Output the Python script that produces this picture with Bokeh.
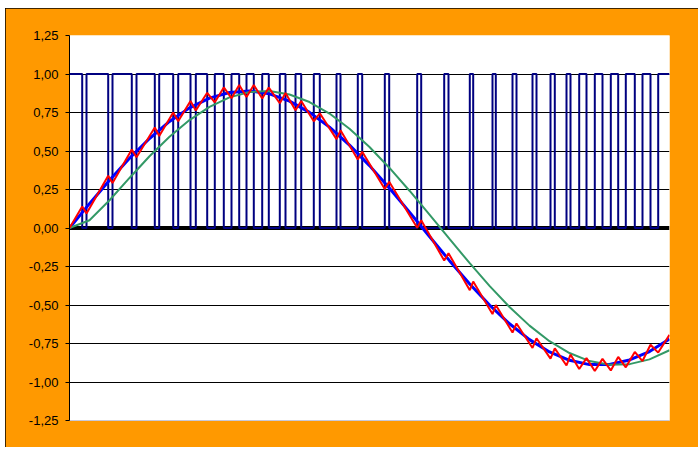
from bokeh.plotting import figure
from bokeh.models import Range1d, FixedTicker, Span
from bokeh.embed import file_html
from bokeh.resources import INLINE

# ---------------- data ----------------
y_ticks = [-1.25, -1.0, -0.75, -0.5, -0.25, 0.0, 0.25, 0.5, 0.75, 1.0, 1.25]
y_labels = ["-1,25", "-1,00", "-0,75", "-0,50", "-0,25", "0,00",
            "0,25", "0,50", "0,75", "1,00", "1,25"]

# PWM square wave: times of falling (1->0) and rising (0->1) edges
pwm_down = [12.7, 38.7, 62.3, 85.3, 103.7, 121, 137.7, 154.3, 169.7, 184.3,
            199.3, 216, 231.7, 250.3, 271, 292.7, 319.7, 351.7, 379, 403.7,
            426.3, 447, 467, 485.3, 501, 517, 533, 548.7, 565.3, 581]
pwm_up = [17, 43, 67, 89.7, 108.7, 126.3, 145.3, 162, 177, 192.7,
          210.3, 226, 244.3, 267, 288.3, 315.3, 347.7, 374.7, 400.3, 423,
          443, 463, 481, 497, 509.7, 525.3, 541.3, 556.3, 573, 588.7]
t_start, t_end = 0, 600

# reference sine (blue)
ref_x = [0, 20, 40, 60, 80, 100, 120, 140, 160, 180, 200, 220, 240, 260, 280, 300,
         320, 340, 360, 380, 400, 420, 440, 460, 480, 500, 520, 540, 560, 580, 600]
ref_y = [0.0, 0.158, 0.310, 0.453, 0.581, 0.692, 0.780, 0.843, 0.880, 0.890, 0.871,
         0.824, 0.751, 0.655, 0.538, 0.405, 0.258, 0.103, -0.055, -0.212, -0.362,
         -0.500, -0.622, -0.725, -0.805, -0.859, -0.887, -0.886, -0.857, -0.802, -0.721]

# filtered output (red), vertex values at start, every PWM edge, end
out_y = [0.0, 0.140, 0.094, 0.340, 0.292, 0.509, 0.460, 0.653, 0.597, 0.750, 0.693,
         0.824, 0.763, 0.878, 0.816, 0.913, 0.843, 0.928, 0.850, 0.928, 0.841,
         0.912, 0.810, 0.876, 0.765, 0.825, 0.693, 0.745, 0.577, 0.634, 0.445,
         0.495, 0.253, 0.300, 0.002, 0.050, -0.211, -0.164, -0.404, -0.348, -0.559,
         -0.500, -0.679, -0.620, -0.779, -0.716, -0.848, -0.782, -0.893, -0.822, -0.916,
         -0.845, -0.929, -0.850, -0.925, -0.837, -0.905, -0.805, -0.864, -0.758, -0.809,
         -0.694]

# smoothed output (green)
smooth_x = [0, 20, 40, 60, 80, 100, 120, 140, 160, 180, 200, 220, 240, 260, 280, 300,
            320, 340, 360, 380, 400, 420, 440, 460, 480, 500, 520, 540, 560, 580, 600]
smooth_y = [0.0, 0.05, 0.18, 0.325, 0.466, 0.593, 0.701, 0.787, 0.848, 0.883, 0.889,
            0.867, 0.818, 0.743, 0.644, 0.526, 0.390, 0.242, 0.087, -0.071, -0.227,
            -0.376, -0.513, -0.634, -0.735, -0.812, -0.864, -0.888, -0.884, -0.853, -0.794]

# ---------------- build ----------------
sq_x, sq_y = [t_start], [1]
for d, u in zip(pwm_down, pwm_up):
    sq_x += [d, d, u, u]
    sq_y += [1, 0, 0, 1]
sq_x.append(t_end)
sq_y.append(1)

out_x = [t_start]
for d, u in zip(pwm_down, pwm_up):
    out_x += [d, u]
out_x.append(t_end)

p = figure(width=693, height=439, output_backend="svg", toolbar_location=None,
           x_range=Range1d(t_start, t_end), y_range=Range1d(-1.25, 1.25),
           min_border_left=64, min_border_right=29, min_border_top=27, min_border_bottom=27)
p.border_fill_color = "#FF9900"
p.background_fill_color = "white"
p.outline_line_color = None
p.styles = {"outline": "1px solid black", "outline-offset": "-1px",
            "margin-left": "5px", "margin-top": "8px"}

p.xgrid.visible = False
p.ygrid.ticker = FixedTicker(ticks=[t for t in y_ticks if abs(t) not in (0.0, 1.25)])
p.ygrid.grid_line_color = "black"
p.ygrid.grid_line_width = 1

p.yaxis.ticker = FixedTicker(ticks=y_ticks)
p.yaxis.major_label_overrides = {t: l for t, l in zip(y_ticks, y_labels)}
p.yaxis.axis_line_color = "black"
p.yaxis.major_tick_line_color = "black"
p.yaxis.major_tick_out = 4
p.yaxis.major_tick_in = 0
p.yaxis.minor_tick_line_color = None
p.yaxis.major_label_standoff = 7
p.yaxis.major_label_text_font = "Liberation Sans"
p.yaxis.major_label_text_font_size = "13px"
p.yaxis.major_label_text_color = "black"

p.xaxis.ticker = FixedTicker(ticks=[])
p.xaxis.axis_line_color = "#C8C8D8"
p.xaxis.major_tick_line_color = None
p.xaxis.minor_tick_line_color = None

zero = Span(location=0, dimension="width", line_color="black", line_width=4, level="underlay")
p.add_layout(zero)

p.line(sq_x, sq_y, line_color="#000080", line_width=2)
p.line(ref_x, ref_y, line_color="#0000FF", line_width=3)
p.line(smooth_x, smooth_y, line_color="#339966", line_width=2)
p.line(out_x, out_y, line_color="#FF0000", line_width=2)

open("out.html", "w").write(file_html(p, INLINE))
